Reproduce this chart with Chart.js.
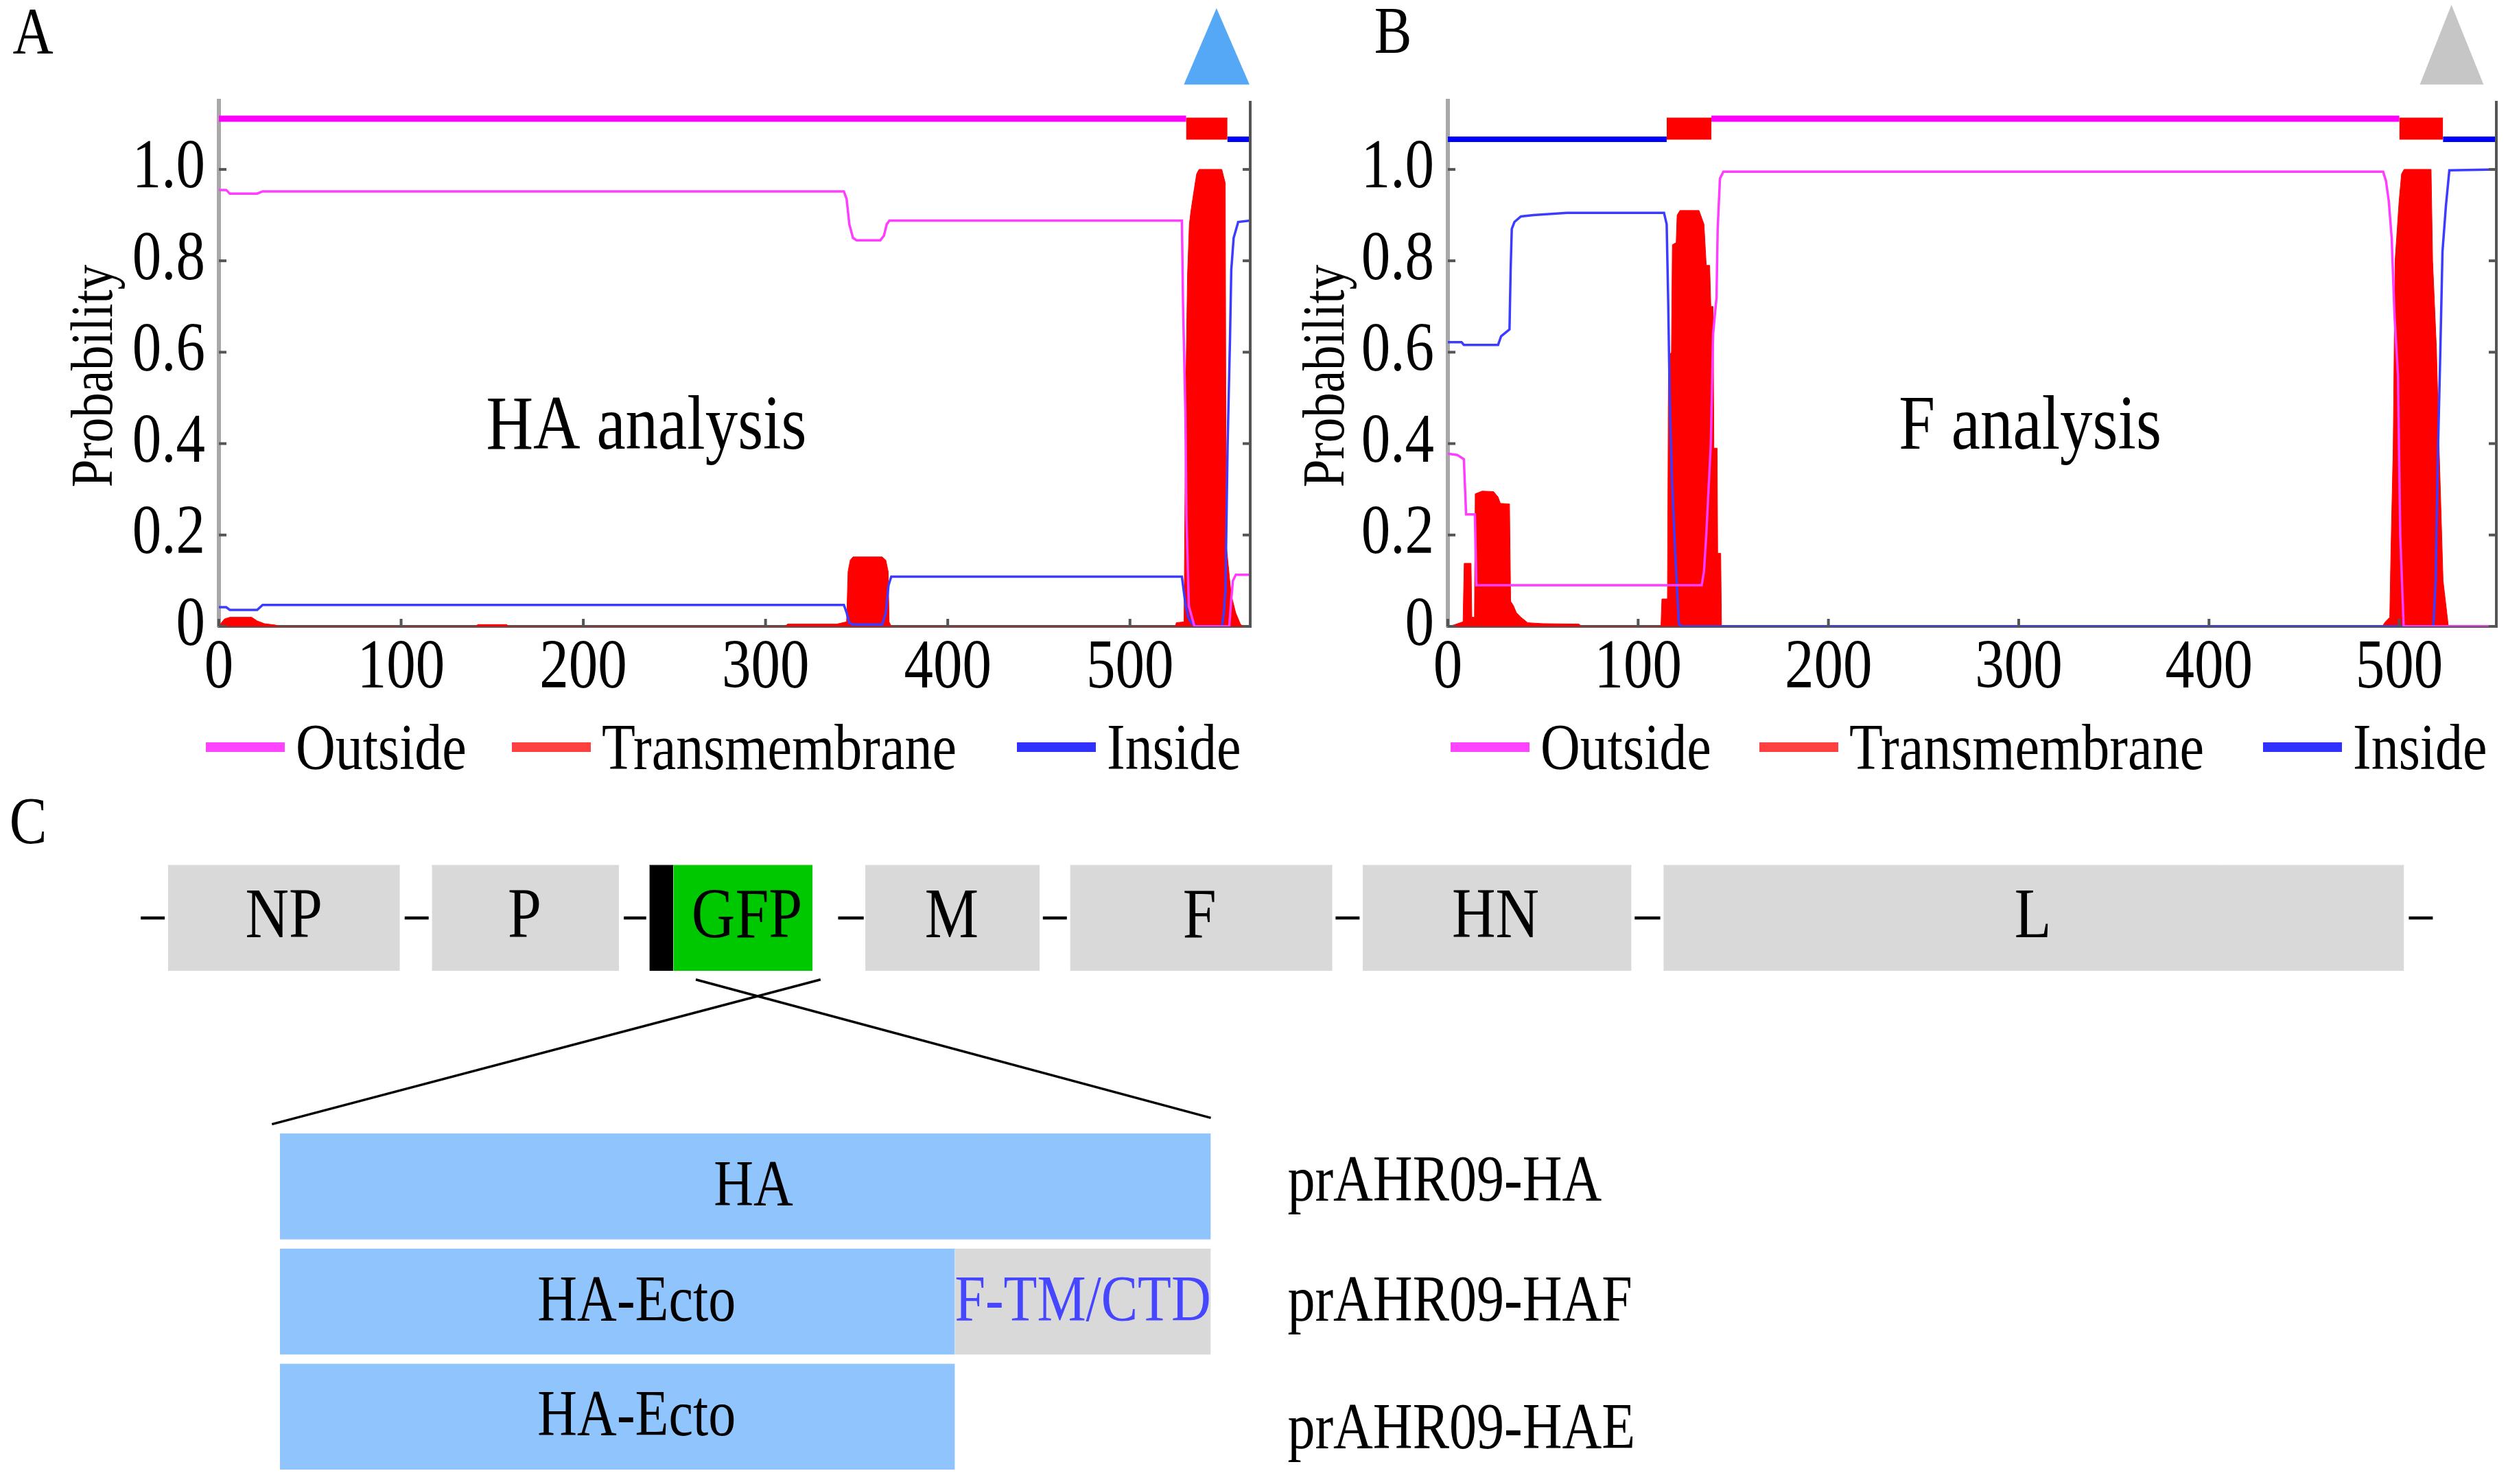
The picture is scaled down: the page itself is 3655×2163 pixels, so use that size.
<!DOCTYPE html>
<html>
<head>
<meta charset="utf-8">
<script src="https://cdn.jsdelivr.net/npm/chart.js@4.4.1/dist/chart.umd.min.js"></script>
<style>
    html, body { margin: 0; padding: 0; background: #fff; }
    body {
        width: 3655px; height: 2163px; position: relative; overflow: hidden;
        font-family: "Liberation Serif", "DejaVu Serif", serif; color: #000;
    }
    canvas { position: absolute; }
    .legend-item {
        position: absolute; display: flex; align-items: center;
        height: 80px; font-size: 80px; line-height: 80px; white-space: nowrap;
    }
    .legend-item .swatch { display: inline-block; width: 115px; height: 14px; margin-right: 16px; }
    .legend-item .txt { display: inline-block; transform: scaleY(1.19); }
</style>
</head>
<body>
<canvas id="chartHA" width="1850" height="1020" style="left:0; top:0;"></canvas>
<canvas id="chartF" width="1805" height="1020" style="left:1850px; top:0;"></canvas>
<canvas id="chartMap" width="3655" height="1013" style="left:0; top:1150px;"></canvas>
<div id="legends"></div>

<script>
// ---------------- Panel A: HA, posterior probabilities (residue, probability) ----------------
const haLength = 566;
const haOutside = [[0,0.955],[4,0.955],[6,0.947],[21,0.947],[24,0.952],[343,0.952],[344.5,0.935],[346,0.88],
    [348,0.85],[350,0.845],[363,0.845],[365,0.855],[366.5,0.88],[368,0.888],[528.5,0.888],[529.1,0.71],
    [530.4,0.47],[531,0.24],[532.3,0.045],[535.4,0],[554.5,0],[555.6,0.06],[556.5,0.1],[558.1,0.113],[566,0.113]];
const haInside = [[0,0.042],[4,0.042],[6,0.036],[21,0.036],[24,0.047],[343,0.047],[344.5,0.03],[346,0.008],
    [348,0.004],[364,0.004],[366,0.03],[367.5,0.09],[369,0.109],[528.5,0.109],[530.4,0.05],[532,0.02],
    [534,0.006],[536.7,0],[550.5,0],[551.5,0.03],[552.4,0.08],[553.6,0.4],[554.9,0.63],[555.6,0.78],
    [556.9,0.85],[559.4,0.885],[566,0.888]];
const haTransmembrane = [[0,0],[1,0.006],[3,0.016],[6,0.02],[18,0.02],[21,0.012],[25,0.006],[31,0.003],[33,0],
    [141,0],[142,0.004],[158,0.004],[159,0],[311,0],[312,0.005],[339,0.005],[344.5,0.01],[345.3,0.12],
    [346.5,0.145],[348,0.152],[364,0.152],[366,0.145],[367.3,0.12],[367.8,0.01],[369,0],
    [525,0],[525.4,0.008],[529.7,0.01],[530.1,0.23],[530.7,0.53],[531.6,0.77],[532.6,0.88],[533.5,0.91],
    [535.4,0.96],[536.6,0.99],[537.9,1.0],[550.4,1.0],[552.3,0.97],[552.8,0.18],[555.5,0.07],[558,0.03],
    [560.6,0.005],[562,0]];
// predicted topology: [region, first residue, last residue]
const haTopology = [['outside',0,530.8],['tm',530.8,553.5],['inside',553.5,566]];
const haMarker = [529.6, 547.5, 565.6];        // marker base left, apex, base right (residue)

// ---------------- Panel B: F ----------------
const fLength = 551;
const fOutside = [[0,0.378],[5,0.375],[8.4,0.366],[9.6,0.245],[14.2,0.245],[15,0.09],[133.4,0.09],
    [134.6,0.12],[135.8,0.2],[138.2,0.4],[139.4,0.64],[141.2,0.72],[141.8,0.87],[143,0.98],[144.8,0.995],
    [491.5,0.995],[493,0.975],[494.5,0.93],[496,0.85],[497.5,0.68],[499.3,0.55],[500.5,0.2],[502.3,0],[551,0]];
const fInside = [[0,0.622],[7.2,0.622],[8.4,0.616],[26.4,0.616],[28,0.635],[32.4,0.65],[33,0.78],[33.6,0.87],
    [35,0.885],[38.4,0.897],[45,0.9],[62.5,0.905],[113.6,0.905],[115,0.88],[115.8,0.71],[116.6,0.5],
    [117.8,0.32],[119.6,0.15],[121.4,0.005],[123,0],[517.9,0],[519.1,0.1],[520.3,0.38],[521.5,0.59],
    [522.7,0.82],[524.5,0.92],[526.3,0.998],[551,1.0]];
const fTransmembrane = [[0,0],[3,0.003],[8,0.01],[8.6,0.138],[12.2,0.138],[12.6,0.02],[14,0.02],[14.4,0.29],
    [18,0.296],[24,0.295],[26.4,0.283],[27.6,0.269],[32.4,0.268],[33,0.055],[34.5,0.045],[36,0.03],
    [38.4,0.02],[42,0.008],[50,0.006],[69,0.005],[70,0],
    [112,0],[112.5,0.06],[115.4,0.06],[116,0.59],[117.5,0.6],[118,0.835],[120,0.84],[120.5,0.9],[122,0.91],
    [132,0.91],[134.6,0.88],[135.8,0.79],[137.6,0.79],[138.2,0.7],[139.4,0.7],[139.8,0.39],[141.5,0.39],
    [141.8,0.16],[143.4,0.16],[143.8,0],
    [491,0],[492.7,0.01],[495,0.02],[495.6,0.16],[496.8,0.39],[497.8,0.8],[499.9,0.93],[501.2,0.99],
    [502.5,1.0],[516.7,1.0],[517.5,0.8],[519.5,0.61],[521,0.38],[523,0.1],[525.8,0]];
const fTopology = [['inside',0,115],['tm',115,138.5],['outside',138.5,500],['tm',500,523],['inside',523,551]];
const fMarker = [510.8, 527.4, 544.3];

const xTicks = [0, 100, 200, 300, 400, 500];
const yTicks = [0, 0.2, 0.4, 0.6, 0.8, 1.0];

// ---------------- Panel C: genome map (schematic units) ----------------
const geneNames = ['NP', 'P', 'GFP', 'M', 'F', 'HN', 'L'];
const geneStart = [105, 270, 421, 541, 669, 852, 1040];
const geneEnd   = [250, 387, 508, 650, 833, 1020, 1503];
const geneLabelAt = [177.5, 328, 467, 595, 750, 935, 1271];
const gfpLeader = [406, 421];
const genomeLinks = [[88,103],[253,268],[390,404],[524,540],[652,667],[835,850],[1022,1038],[1506,1521]];
const zoomLines = [[435, 757], [513, 170]];   // from under GFP to construct edge
const constructNames = ['prAHR09-HA', 'prAHR09-HAF', 'prAHR09-HAE'];
// [label, start, end, kind, label centre]
const constructParts = [
    [['HA', 175, 757, 'ha', 471]],
    [['HA-Ecto', 175, 597, 'ha', 398], ['F-TM/CTD', 597, 757, 'f', 677]],
    [['HA-Ecto', 175, 597, 'ha', 398]]
];

// ---------------- styling ----------------
const COLORS = {
    outside: '#ff00ff', outsideThin: '#ff3cff', outsideKey: '#ff44ff',
    tm: '#ff0000', tmKey: '#ff4040',
    inside: '#0000ff', insideThin: '#3c3cff', insideKey: '#3030ff',
    axisLeft: '#a8a8a8', axisDark: '#555555',
    gene: '#d9d9d9', gfp: '#00c800', ha: '#8fc4fc', fTail: '#d9d9d9', fText: '#4646ff'
};
const SERIF = '"Liberation Serif", "Times New Roman", serif';
const STRETCH = 1.19;     // the figure's lettering is tall and narrow
const OUT_Y = 1.111, IN_Y = 1.066, TM_TOP = 1.1125, TM_BOTTOM = 1.065;

Chart.defaults.font.family = SERIF;
Chart.defaults.color = '#000';

const pts = arr => arr.map(([x, y]) => ({x, y}));

function drawText(ctx, text, x, y, size, {align = 'center', color = '#000', rotate = 0} = {}) {
    ctx.save();
    ctx.translate(x, y);
    if (rotate) ctx.rotate(rotate);
    ctx.scale(1, STRETCH);
    ctx.font = size + 'px ' + SERIF;
    ctx.textAlign = align;
    ctx.textBaseline = 'middle';
    ctx.fillStyle = color;
    ctx.fillText(text, 0, 0);
    ctx.restore();
}

function probabilityDatasets(outside, inside, tm, topology) {
    const ds = [
        {label: 'Outside', data: pts(outside), borderColor: COLORS.outsideThin, borderWidth: 3.5,
         pointRadius: 0, order: 1, keyColor: COLORS.outsideKey},
        {label: 'Transmembrane', data: pts(tm), borderColor: COLORS.tm, backgroundColor: COLORS.tm,
         borderWidth: 1, fill: 'origin', pointRadius: 0, order: 3, keyColor: COLORS.tmKey},
        {label: 'Inside', data: pts(inside), borderColor: COLORS.insideThin, borderWidth: 3.5,
         pointRadius: 0, order: 2, keyColor: COLORS.insideKey}
    ];
    topology.forEach(([kind, start, end]) => {
        if (kind === 'tm') {
            ds.push({data: [{x: start, y: TM_TOP}, {x: end, y: TM_TOP}], fill: {value: TM_BOTTOM},
                     backgroundColor: COLORS.tm, borderColor: COLORS.tm, borderWidth: 1, pointRadius: 0, order: 0});
        } else {
            const y = kind === 'outside' ? OUT_Y : IN_Y;
            ds.push({data: [{x: start, y}, {x: end, y}], borderColor: COLORS[kind],
                     borderWidth: kind === 'outside' ? 9 : 8, pointRadius: 0, order: 0});
        }
    });
    return ds;
}

// inward ticks, right frame line, tick labels, caption and the marker triangle above the plot
const framePlugin = {
    id: 'frame',
    afterDraw(chart, args, opts) {
        const {ctx, chartArea: a, scales: {x, y}} = chart;
        const seg = (x1, y1, x2, y2) => { ctx.beginPath(); ctx.moveTo(x1, y1); ctx.lineTo(x2, y2); ctx.stroke(); };
        ctx.save();
        ctx.strokeStyle = COLORS.axisDark;
        ctx.lineWidth = 4;
        seg(a.right, a.top, a.right, a.bottom + 2);
        y.ticks.forEach(t => {
            const py = y.getPixelForValue(t.value);
            seg(a.left, py, a.left + 11, py);
            seg(a.right, py, a.right - 11, py);
        });
        x.ticks.forEach(t => {
            const px = x.getPixelForValue(t.value);
            seg(px, a.bottom, px, a.bottom - 11);
        });
        ctx.restore();

        y.ticks.forEach(t => {
            const label = t.value === 0 ? '0' : t.value.toFixed(1);
            drawText(ctx, label, a.left - 20, y.getPixelForValue(t.value), 85, {align: 'right'});
        });
        x.ticks.forEach(t => {
            drawText(ctx, String(t.value), x.getPixelForValue(t.value), a.bottom + 62, 85);
        });
        drawText(ctx, 'Probability', opts.titleX, y.getPixelForValue(0.548), 73, {rotate: -Math.PI / 2});
        drawText(ctx, opts.caption, x.getPixelForValue(opts.captionAt[0]), y.getPixelForValue(opts.captionAt[1]), 95);
        drawText(ctx, opts.panel, opts.panelAt[0], opts.panelAt[1], 82);

        const [l, apex, r] = opts.marker;
        ctx.save();
        ctx.fillStyle = opts.markerColor;
        ctx.beginPath();
        ctx.moveTo(x.getPixelForValue(l), y.getPixelForValue(1.1856));
        ctx.lineTo(x.getPixelForValue(apex), y.getPixelForValue(opts.markerTop));
        ctx.lineTo(x.getPixelForValue(r), y.getPixelForValue(1.1856));
        ctx.closePath();
        ctx.fill();
        ctx.restore();
    }
};

function createProbabilityChart(id, length, datasets, frame, axisWidth, padRight) {
    return new Chart(document.getElementById(id), {
        type: 'line',
        data: {datasets},
        plugins: [framePlugin],
        options: {
            responsive: false,
            animation: false,
            devicePixelRatio: 1,
            layout: {padding: {top: 147, right: padRight, left: 0, bottom: 0}},
            plugins: {legend: {display: false}, tooltip: {enabled: false}, frame},
            scales: {
                x: {
                    type: 'linear', min: 0, max: length,
                    afterBuildTicks: s => { s.ticks = xTicks.map(value => ({value})); },
                    afterFit: s => { s.height = 107; },
                    grid: {drawOnChartArea: false, drawTicks: false},
                    border: {color: COLORS.axisDark, width: 4},
                    ticks: {display: false}
                },
                y: {
                    type: 'linear', min: 0, max: 1.15,
                    afterBuildTicks: s => { s.ticks = yTicks.map(value => ({value})); },
                    afterFit: s => { s.width = axisWidth; },
                    grid: {drawOnChartArea: false, drawTicks: false},
                    border: {color: COLORS.axisLeft, width: 6},
                    ticks: {display: false}
                }
            }
        }
    });
}

const haChart = createProbabilityChart('chartHA', haLength,
    probabilityDatasets(haOutside, haInside, haTransmembrane, haTopology),
    {caption: 'HA analysis', captionAt: [234.6, 0.433], marker: haMarker, markerTop: 1.3525,
     markerColor: '#55a8f5', titleX: 140, panel: 'A', panelAt: [48, 52]},
    319, 28);

const fChart = createProbabilityChart('chartF', fLength,
    probabilityDatasets(fOutside, fInside, fTransmembrane, fTopology),
    {caption: 'F analysis', captionAt: [306, 0.433], marker: fMarker, markerTop: 1.36,
     markerColor: '#c6c6c6', titleX: 85, panel: 'B', panelAt: [180, 51]},
    260, 17);

// HTML legends placed under each plot
function buildLegend(chart, lefts) {
    const host = document.getElementById('legends');
    chart.data.datasets.slice(0, 3).forEach((ds, i) => {
        const item = document.createElement('div');
        item.className = 'legend-item';
        item.style.left = lefts[i] + 'px';
        item.style.top = '1049px';
        item.innerHTML = '<span class="swatch" style="background:' + ds.keyColor + '"></span>' +
                         '<span class="txt">' + ds.label + '</span>';
        host.appendChild(item);
    });
}
buildLegend(haChart, [300, 746, 1482]);
buildLegend(fChart, [2114, 2564, 3298]);

// ---------------- Panel C chart ----------------
const GENE_ROW = [541, 607], GENE_MID = 574;
const CONSTRUCT_ROWS = [[709, 775], [781, 847], [853, 919]];
const CONSTRUCT_TEXT_Y = [740, 815, 895];

function rect(x0, x1, top, bottom, color) {
    return {data: [{x: x0, y: top}, {x: x1, y: top}], fill: {value: bottom}, backgroundColor: color,
            borderColor: color, borderWidth: 1, pointRadius: 0};
}
function segment(x0, y0, x1, y1, width) {
    return {data: [{x: x0, y: y0}, {x: x1, y: y1}], borderColor: '#000', borderWidth: width, pointRadius: 0, fill: false};
}

const mapDatasets = [];
genomeLinks.forEach(([a, b]) => mapDatasets.push(segment(a, GENE_MID, b, GENE_MID, 4.5)));
geneNames.forEach((name, i) => {
    mapDatasets.push(rect(geneStart[i], geneEnd[i], GENE_ROW[0], GENE_ROW[1], name === 'GFP' ? COLORS.gfp : COLORS.gene));
});
mapDatasets.push(rect(gfpLeader[0], gfpLeader[1], GENE_ROW[0], GENE_ROW[1], '#000'));
mapDatasets.push(segment(zoomLines[0][0], 612.5, zoomLines[0][1], 699, 3.5));
mapDatasets.push(segment(zoomLines[1][0], 612.5, zoomLines[1][1], 703, 3.5));
constructParts.forEach((parts, r) => {
    parts.forEach(([, s, e, kind]) => {
        mapDatasets.push(rect(s, e, CONSTRUCT_ROWS[r][0], CONSTRUCT_ROWS[r][1], kind === 'ha' ? COLORS.ha : COLORS.fTail));
    });
});

const mapLabels = {
    id: 'mapLabels',
    afterDatasetsDraw(chart) {
        const {ctx, scales: {x, y}} = chart;
        geneNames.forEach((name, i) => {
            drawText(ctx, name, x.getPixelForValue(geneLabelAt[i]), y.getPixelForValue(GENE_MID), 88);
        });
        constructParts.forEach((parts, r) => {
            parts.forEach(([label, , , kind, at]) => {
                drawText(ctx, label, x.getPixelForValue(at),
                         y.getPixelForValue((CONSTRUCT_ROWS[r][0] + CONSTRUCT_ROWS[r][1]) / 2 + 1), 80,
                         {color: kind === 'ha' ? '#000' : COLORS.fText});
            });
        });
        constructNames.forEach((name, r) => {
            drawText(ctx, name, x.getPixelForValue(805), y.getPixelForValue(CONSTRUCT_TEXT_Y[r]), 80, {align: 'left'});
        });
        drawText(ctx, 'C', 41, 53, 82);
    }
};

new Chart(document.getElementById('chartMap'), {
    type: 'line',
    data: {datasets: mapDatasets},
    plugins: [mapLabels],
    options: {
        responsive: false,
        animation: false,
        devicePixelRatio: 1,
        layout: {padding: 0},
        plugins: {legend: {display: false}, tooltip: {enabled: false}},
        scales: {
            x: {type: 'linear', min: 0, max: 1568, display: false},
            y: {type: 'linear', min: 493.3, max: 928, reverse: true, display: false}
        }
    }
});
</script>
</body>
</html>
